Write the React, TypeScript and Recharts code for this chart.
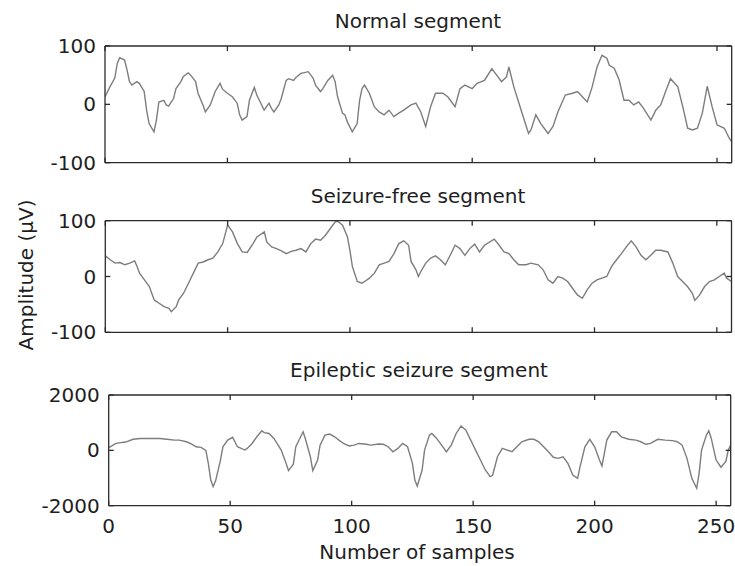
import React from "react";
import { LineChart, Line, XAxis, YAxis } from "recharts";

// EEG segments, values (sample index -> amplitude)
const normalSamples = [0, 2, 4, 5, 6, 8, 9, 10, 11, 13, 14, 16, 17, 18, 20, 21, 22, 24, 25, 26, 28, 29, 31, 32, 34, 35, 37, 38, 40, 41, 43, 45, 47, 48, 50, 52, 54, 55, 56, 58, 59, 61, 62, 64, 65, 67, 68, 69, 71, 72, 74, 75, 77, 78, 80, 81, 83, 85, 86, 88, 89, 91, 93, 94, 95, 97, 98, 99, 101, 103, 104, 105, 106, 108, 110, 112, 114, 116, 118, 120, 122, 125, 127, 129, 131, 133, 135, 138, 140, 143, 145, 147, 150, 152, 155, 158, 160, 162, 164, 165, 167, 170, 173, 174, 176, 178, 181, 183, 185, 188, 191, 193, 195, 197, 199, 201, 203, 205, 206, 208, 210, 212, 214, 216, 218, 220, 223, 225, 227, 229, 231, 234, 236, 238, 240, 242, 244, 246, 248, 250, 253, 255, 256];
const normalAmp = [13, 30, 45, 70, 80, 76, 59, 39, 33, 39, 36, 22, -10, -33, -47, -27, 4, 7, -1, -3, 10, 27, 39, 48, 54, 50, 39, 19, -1, -13, -1, 22, 36, 26, 19, 13, 2, -18, -27, -21, 7, 29, 16, -1, -10, 2, -7, -13, -1, 10, 41, 44, 41, 46, 53, 54, 56, 45, 33, 22, 27, 41, 50, 39, 13, -15, -18, -30, -47, -33, 7, 27, 33, 19, -4, -13, -18, -10, -21, -15, -10, -1, 2, -13, -38, -4, 19, 19, 13, -4, 27, 33, 27, 36, 41, 61, 50, 39, 47, 64, 30, -10, -50, -44, -18, -33, -50, -38, -13, 16, 19, 22, 13, 4, 30, 64, 84, 79, 67, 62, 42, 7, 7, -1, 4, -7, -27, -10, -1, 22, 44, 30, -4, -41, -44, -41, -15, 31, -4, -35, -41, -58, -64];

const freeSamples = [0, 2, 4, 6, 8, 10, 12, 13, 14, 16, 18, 20, 22, 24, 26, 27, 29, 30, 32, 34, 36, 38, 40, 42, 44, 46, 48, 50, 52, 54, 56, 58, 60, 62, 65, 66, 68, 70, 72, 74, 76, 78, 80, 82, 84, 86, 88, 90, 92, 94, 95, 97, 99, 100, 101, 103, 105, 106, 108, 110, 112, 114, 116, 118, 120, 122, 124, 125, 127, 128, 129, 131, 133, 135, 137, 139, 141, 143, 145, 147, 149, 151, 153, 155, 159, 161, 163, 165, 167, 169, 172, 174, 177, 179, 181, 183, 185, 187, 189, 191, 193, 195, 197, 199, 201, 203, 205, 207, 209, 211, 213, 215, 217, 219, 221, 223, 225, 227, 230, 232, 234, 236, 238, 240, 241, 243, 245, 247, 249, 251, 253, 254, 256];
const freeAmp = [37, 30, 24, 25, 21, 24, 28, 18, 6, -6, -18, -42, -48, -54, -57, -63, -54, -42, -30, -12, 6, 24, 26, 30, 33, 44, 59, 92, 80, 59, 44, 43, 56, 71, 80, 62, 53, 50, 46, 41, 45, 47, 50, 44, 59, 67, 65, 74, 86, 98, 99, 92, 71, 47, 18, -9, -12, -9, -3, 6, 21, 24, 27, 41, 59, 64, 56, 27, 12, 0, 9, 24, 33, 37, 30, 21, 38, 56, 50, 38, 50, 58, 44, 56, 67, 56, 44, 41, 30, 21, 21, 24, 21, 12, -6, -12, 0, -3, -9, -21, -33, -39, -24, -12, -6, -3, 0, 18, 30, 41, 53, 64, 53, 38, 30, 38, 47, 47, 44, 24, 0, -9, -18, -30, -43, -33, -18, -9, -6, 0, 6, -3, -9];

const seizureSamples = [0, 3, 5, 7, 10, 13, 16, 18, 21, 24, 27, 29, 32, 34, 36, 38, 40, 41, 42, 43, 44, 46, 47, 49, 51, 52, 53, 56, 57, 59, 61, 63, 64, 66, 68, 71, 73, 74, 76, 77, 79, 80, 81, 83, 84, 86, 87, 89, 91, 93, 95, 97, 99, 101, 103, 106, 108, 111, 113, 115, 117, 119, 121, 123, 125, 126, 127, 129, 130, 132, 133, 135, 137, 139, 141, 143, 145, 147, 149, 151, 153, 155, 157, 158, 160, 162, 164, 166, 168, 170, 173, 175, 177, 179, 181, 183, 185, 187, 189, 191, 193, 194, 196, 198, 200, 202, 203, 204, 205, 207, 209, 211, 214, 217, 219, 221, 223, 226, 229, 232, 234, 236, 238, 240, 242, 243, 244, 246, 247, 248, 250, 252, 254, 255, 256];
const seizureAmp = [100, 250, 280, 300, 400, 430, 430, 430, 430, 400, 370, 370, 310, 230, 130, 110, 0, -470, -1070, -1310, -1100, -350, 130, 370, 470, 300, 130, 10, 70, 250, 490, 710, 640, 610, 430, 10, -470, -730, -500, 130, 490, 670, 400, -230, -730, -350, 190, 550, 590, 490, 350, 230, 160, 190, 250, 220, 190, 230, 220, 130, -50, 70, 250, 130, -470, -1070, -1290, -710, 10, 550, 610, 430, 190, -50, 190, 610, 880, 730, 370, 10, -350, -710, -950, -900, -230, 70, 10, -50, 130, 310, 400, 400, 310, 130, -50, -250, -290, -230, -470, -890, -1010, -590, 130, 400, 130, -350, -570, -110, 370, 670, 670, 490, 400, 370, 310, 220, 250, 400, 370, 350, 310, 190, -290, -1010, -1370, -830, 10, 550, 710, 430, -350, -610, -400, 10, 190];

const xTicks = [0, 50, 100, 150, 200, 250];
const uvTicks = [-100, 0, 100];
const seizureTicks = [-2000, 0, 2000];

const W = 735;
const FONT = "'DejaVu Sans', Arial, sans-serif";
const AXIS = "#2b2b2b";
const TRACE = "#7d7d7d";

const toRows = (xs: number[], ys: number[]) => xs.map((x, i) => ({ x, y: ys[i] }));

const NoLabel = () => <g />;
const tickText = { fontSize: 20, fill: "#1e1e1e", fontFamily: FONT };
const lineStyle = { stroke: AXIS, strokeWidth: 1.3 };

type PanelProps = {
  rows: { x: number; y: number }[];
  top: number;
  height: number;
  plotTop: number;
  plotBottom: number;
  plotLeft: number;
  plotRight: number;
  yTicks: number[];
  showX: boolean;
};

function Panel({ rows, top, height, plotTop, plotBottom, plotLeft, plotRight, yTicks, showX }: PanelProps) {
  const yDomain = [yTicks[0], yTicks[yTicks.length - 1]];
  return (
    <div style={{ position: "absolute", left: 0, top }}>
      <LineChart
        width={W}
        height={height}
        data={rows}
        margin={{ top: plotTop - top - 1, right: W - plotRight - 1, bottom: 0, left: 0 }}
      >
        <XAxis
          xAxisId="b"
          type="number"
          dataKey="x"
          domain={[0, 256]}
          ticks={xTicks}
          interval={0}
          allowDataOverflow
          height={top + height - plotBottom}
          tickSize={-5}
          tickMargin={18}
          axisLine={lineStyle}
          tickLine={lineStyle}
          tick={showX ? tickText : NoLabel}
        />
        {/* mirrored axes on top and right close the box, with inward ticks */}
        <XAxis
          xAxisId="t"
          orientation="top"
          type="number"
          dataKey="x"
          domain={[0, 256]}
          ticks={xTicks}
          interval={0}
          allowDataOverflow
          height={1}
          tickSize={-5}
          axisLine={lineStyle}
          tickLine={lineStyle}
          tick={NoLabel}
        />
        <YAxis
          yAxisId="l"
          type="number"
          domain={yDomain}
          ticks={yTicks}
          interval={0}
          allowDataOverflow
          width={plotLeft}
          tickSize={-5}
          tickMargin={14}
          axisLine={lineStyle}
          tickLine={lineStyle}
          tick={tickText}
        />
        <YAxis
          yAxisId="r"
          orientation="right"
          type="number"
          domain={yDomain}
          ticks={yTicks}
          interval={0}
          allowDataOverflow
          width={1}
          tickSize={-5}
          axisLine={lineStyle}
          tickLine={lineStyle}
          tick={NoLabel}
        />
        <Line
          xAxisId="b"
          yAxisId="l"
          type="linear"
          dataKey="y"
          stroke={TRACE}
          strokeWidth={1.4}
          dot={false}
          isAnimationActive={false}
        />
        <Line
          xAxisId="t"
          yAxisId="r"
          type="linear"
          dataKey="y"
          stroke="none"
          dot={false}
          legendType="none"
          isAnimationActive={false}
        />
      </LineChart>
    </div>
  );
}

export default function App() {
  return (
    <div style={{ position: "absolute", left: 0, top: 0, width: W, height: 566, background: "#fff" }}>
      <Panel rows={toRows(normalSamples, normalAmp)} top={0} height={180} plotTop={46} plotBottom={162.7} plotLeft={105} plotRight={731.7} yTicks={uvTicks} showX={false} />
      <Panel rows={toRows(freeSamples, freeAmp)} top={180} height={170} plotTop={220.7} plotBottom={332.3} plotLeft={105.3} plotRight={731.5} yTicks={uvTicks} showX={false} />
      <Panel rows={toRows(seizureSamples, seizureAmp)} top={350} height={216} plotTop={395} plotBottom={505.7} plotLeft={108.7} plotRight={730.7} yTicks={seizureTicks} showX={true} />
      <svg width={W} height={566} style={{ position: "absolute", left: 0, top: 0, pointerEvents: "none" }} fontFamily={FONT} fontSize={20} fill="#1e1e1e">
        <text x={418} y={28} textAnchor="middle">Normal segment</text>
        <text x={418} y={203} textAnchor="middle">Seizure-free segment</text>
        <text x={419} y={377} textAnchor="middle">Epileptic seizure segment</text>
        <text x={417} y={559} textAnchor="middle">Number of samples</text>
        <text x={33} y={275} textAnchor="middle" transform="rotate(-90 33 275)">Amplitude (μV)</text>
      </svg>
    </div>
  );
}
